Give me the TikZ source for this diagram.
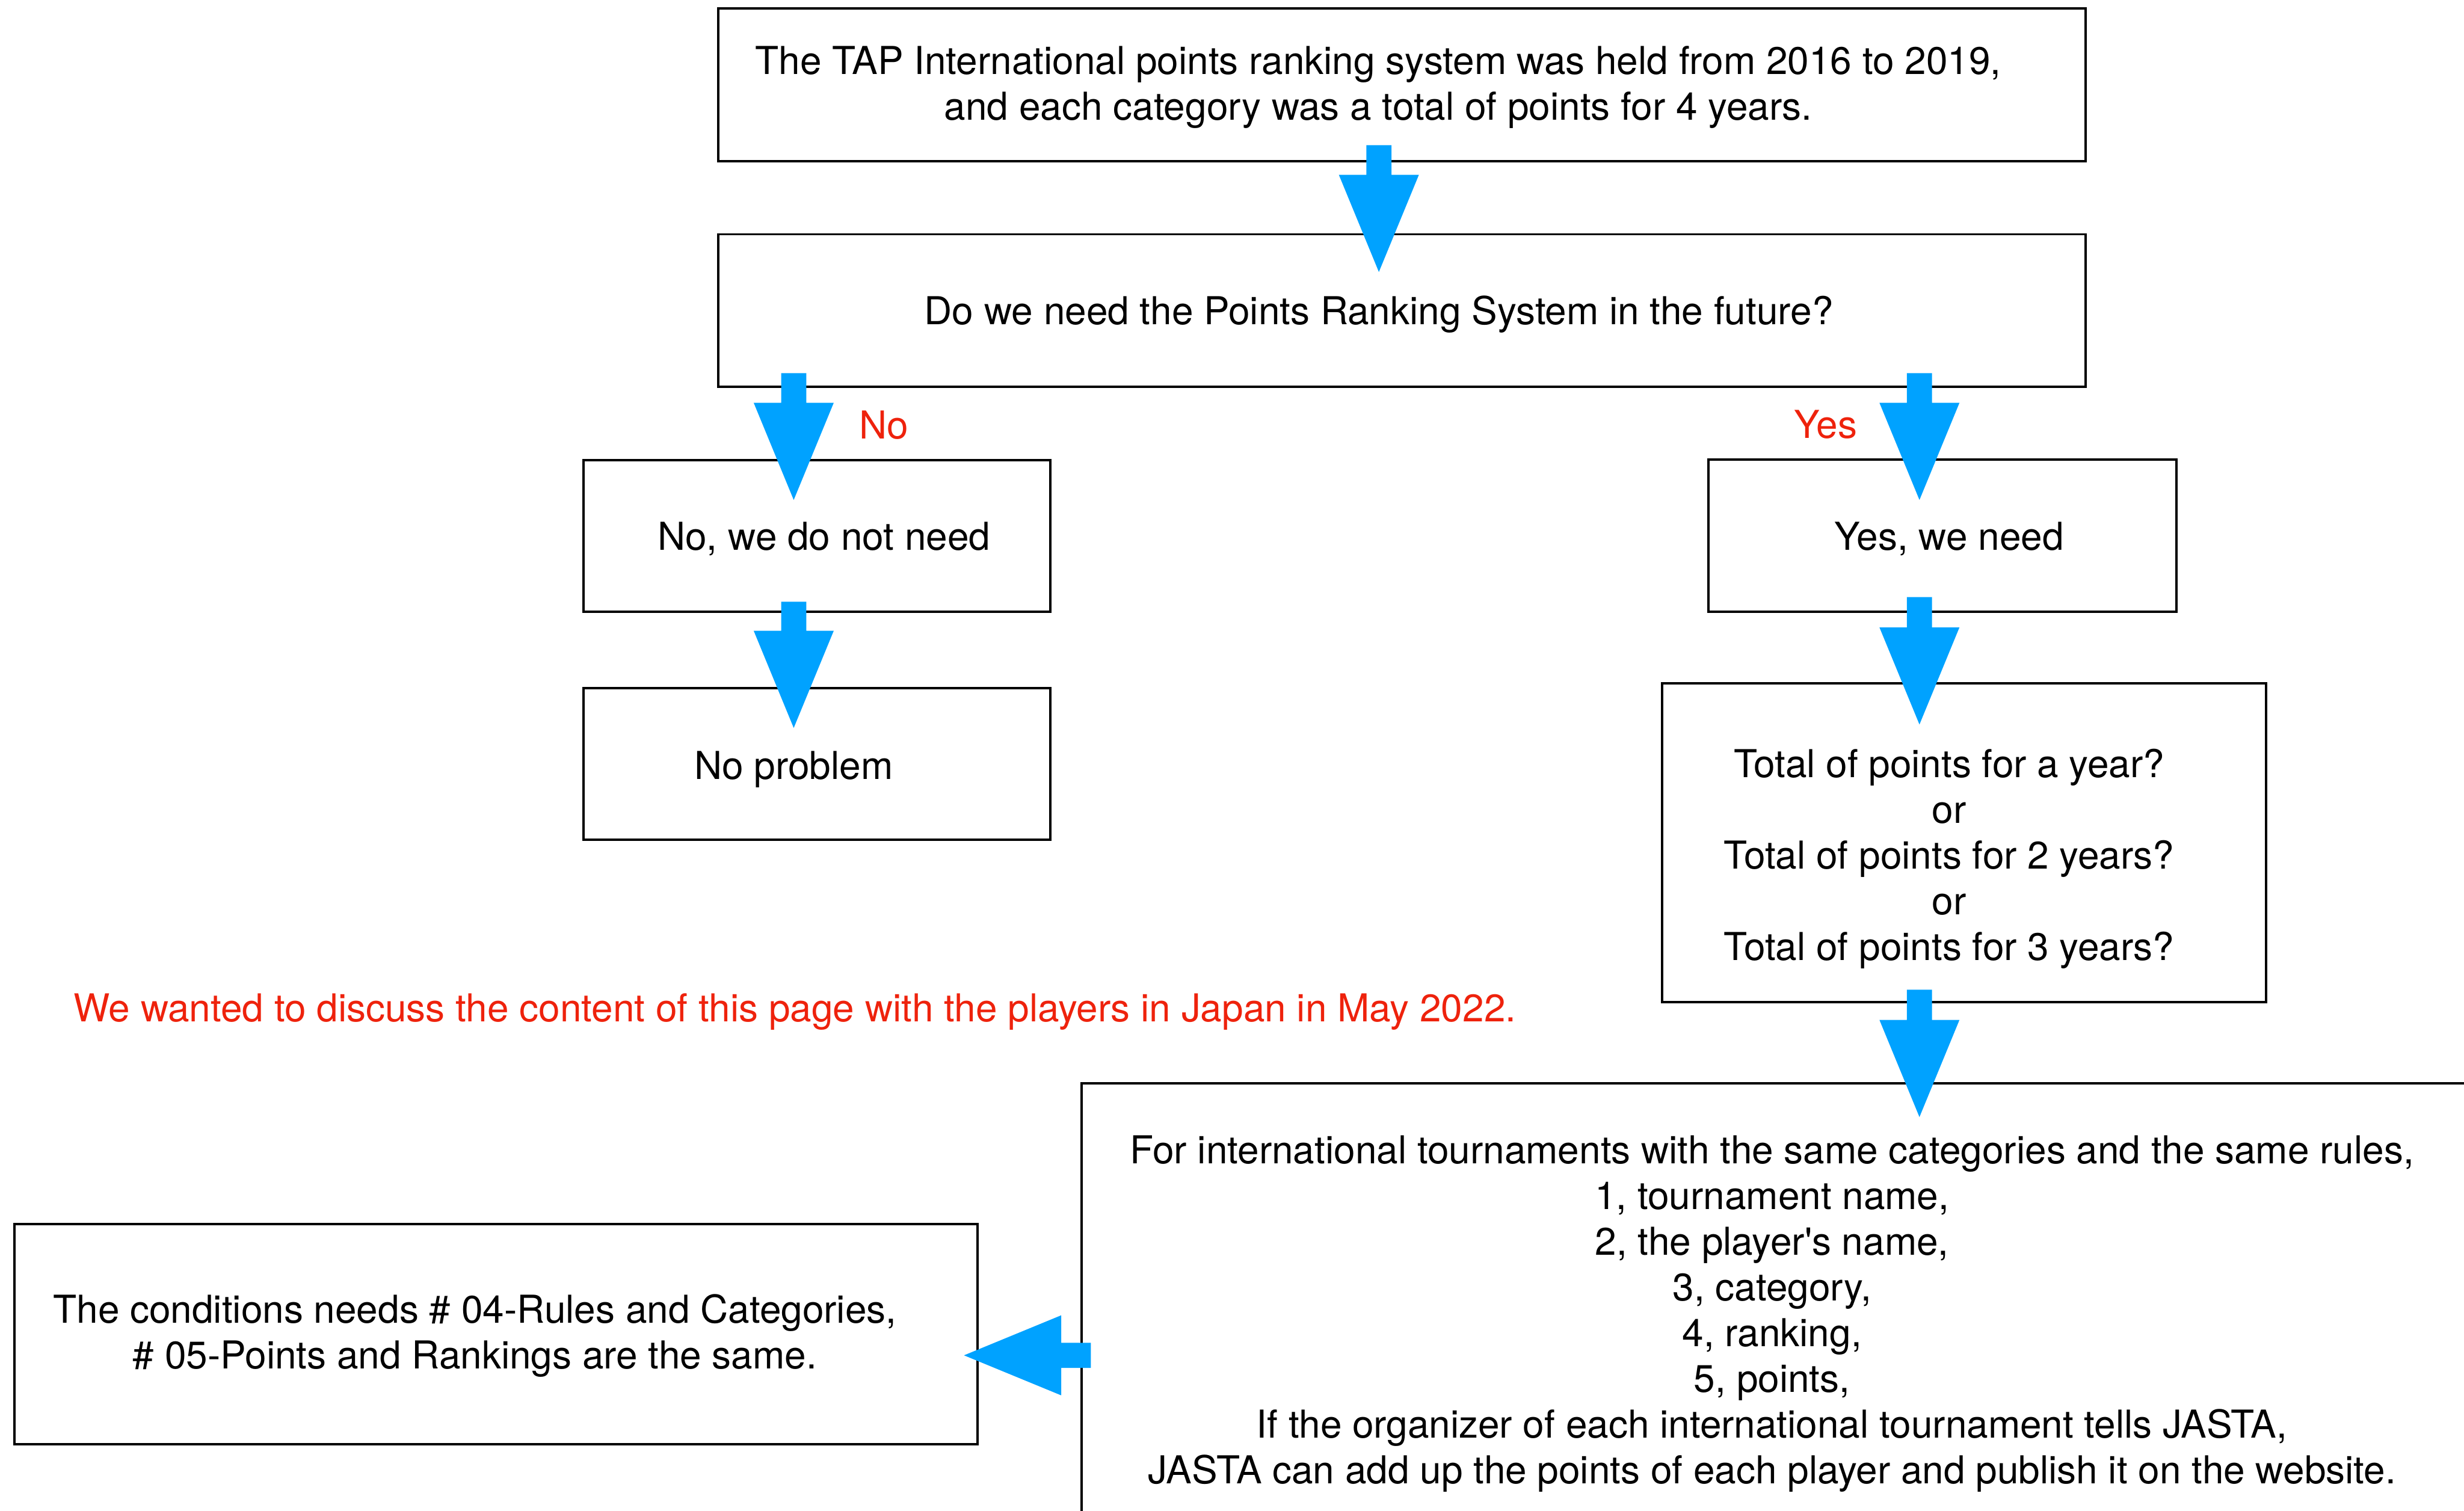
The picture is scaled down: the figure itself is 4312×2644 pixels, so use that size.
\documentclass[tikz,border=0pt]{standalone}
\usepackage{fontspec}
\setmainfont{TeX Gyre Heros}
\usetikzlibrary{calc}
\definecolor{flowblue}{RGB}{0,162,255}
\definecolor{notered}{RGB}{238,34,12}
\tikzset{
  box/.style={draw=black, line width=4pt, inner sep=0pt},
  txt/.style={align=center, inner sep=0pt,
    font=\fontsize{67.3pt}{80pt}\selectfont,
    execute at begin node=\strut, execute at end node=\strut},
  note/.style={txt, text=notered},
}
% fat block arrow pointing down: #1 = top of shaft, #2 = tip (only its y is used)
\newcommand\fatdown[2]{%
  \fill[flowblue] let \p1=(#1), \p2=(#2) in
    (\x1-22pt,\y1) -- (\x1+22pt,\y1) -- (\x1+22pt,\y2+170pt) -- (\x1+70pt,\y2+170pt)
    -- (\x1,\y2) -- (\x1-70pt,\y2+170pt) -- (\x1-22pt,\y2+170pt) -- cycle;}
% fat block arrow pointing left: #1 = right end of shaft, #2 = tip (only its x is used)
\newcommand\fatleft[2]{%
  \fill[flowblue] let \p1=(#1), \p2=(#2) in
    (\x1,\y1+22pt) -- (\x1,\y1-22pt) -- (\x2+170pt,\y1-22pt) -- (\x2+170pt,\y1-70pt)
    -- (\x2,\y1) -- (\x2+170pt,\y1+70pt) -- (\x2+170pt,\y1+22pt) -- cycle;}
\begin{document}
\begin{tikzpicture}[x=1pt, y=-1pt]
\useasboundingbox (0,0) rectangle (4312,2644);
\clip (0,0) rectangle (4312,2644);

% frames
\node[box, minimum width=2393pt, minimum height=267pt] (b1) at (2453.5,148.5) {};
\node[box, minimum width=2393pt, minimum height=267pt] (b2) at (2453.5,543.5) {};
\node[box, minimum width=817pt, minimum height=266pt] (nb) at (1429.5,938) {};
\node[box, minimum width=817pt, minimum height=266pt] (np) at (1429.5,1337) {};
\node[box, minimum width=819pt, minimum height=267pt] (yb) at (3399.5,937.5) {};
\node[box, minimum width=1057pt, minimum height=558pt] (tb) at (3437.5,1475) {};
\node[box, minimum width=2507pt, minimum height=824pt] (big) at (3146.5,2308) {};
\node[box, minimum width=1686pt, minimum height=386pt] (lb) at (868,2335) {};

% texts
\node[txt] (b1t) at (2412,157) {The TAP International points ranking system was held from 2016 to 2019,\\and each category was a total of points for 4 years.};
\node[txt] (b2t) at (2413,552) {Do we need the Points Ranking System in the future?};
\node[txt] (nbt) at (1442,947) {No, we do not need};
\node[txt] (npt) at (1389,1348) {No problem};
\node[txt] (ybt) at (3411,947) {Yes, we need};
\node[txt] (tbt) at (3411,1508) {Total of points for a year?\\or\\Total of points for 2 years?\\or\\Total of points for 3 years?};
\node[txt] (bigt) at (3101,2304) {For international tournaments with the same categories and the same rules,\\1, tournament name,\\2, the player\textquotesingle s name,\\3, category,\\4, ranking,\\5, points,\\If the organizer of each international tournament tells JASTA,\\JASTA can add up the points of each player and publish it on the website.};
\node[txt] (lbt) at (831,2342) {The conditions needs \# 04-Rules and Categories,\\\# 05-Points and Rankings are the same.};

% red remarks
\node[note, anchor=base] (nolab) at (1547,768) {No};
\node[note, anchor=base] (yeslab) at (3195,767) {Yes};
\node[note, anchor=base] (remark) at (1391,1788) {We wanted to discuss the content of this page with the players in Japan in May 2022.};

% connectors
\fatdown{$(b1.south)+(-40.5,-30)$}{$(b2.north)+(-40.5,68)$}
\fatdown{$(b2.south)+(-1064.5,-26)$}{$(nb.north)+(-40.5,72)$}
\fatdown{$(b2.south)+(905.5,-26)$}{$(yb.north)+(-40.5,73)$}
\fatdown{$(nb.south)+(-40.5,-20)$}{$(np.north)+(-40.5,72)$}
\fatdown{$(yb.south)+(-40.5,-28)$}{$(tb.north)+(-78.5,74)$}
\fatdown{$(tb.south)+(-78.5,-24)$}{$(big.north)+(212.5,61)$}
\fatleft{$(big.west)+(18,64)$}{$(lb.east)+(-26,37)$}
\end{tikzpicture}
\end{document}
